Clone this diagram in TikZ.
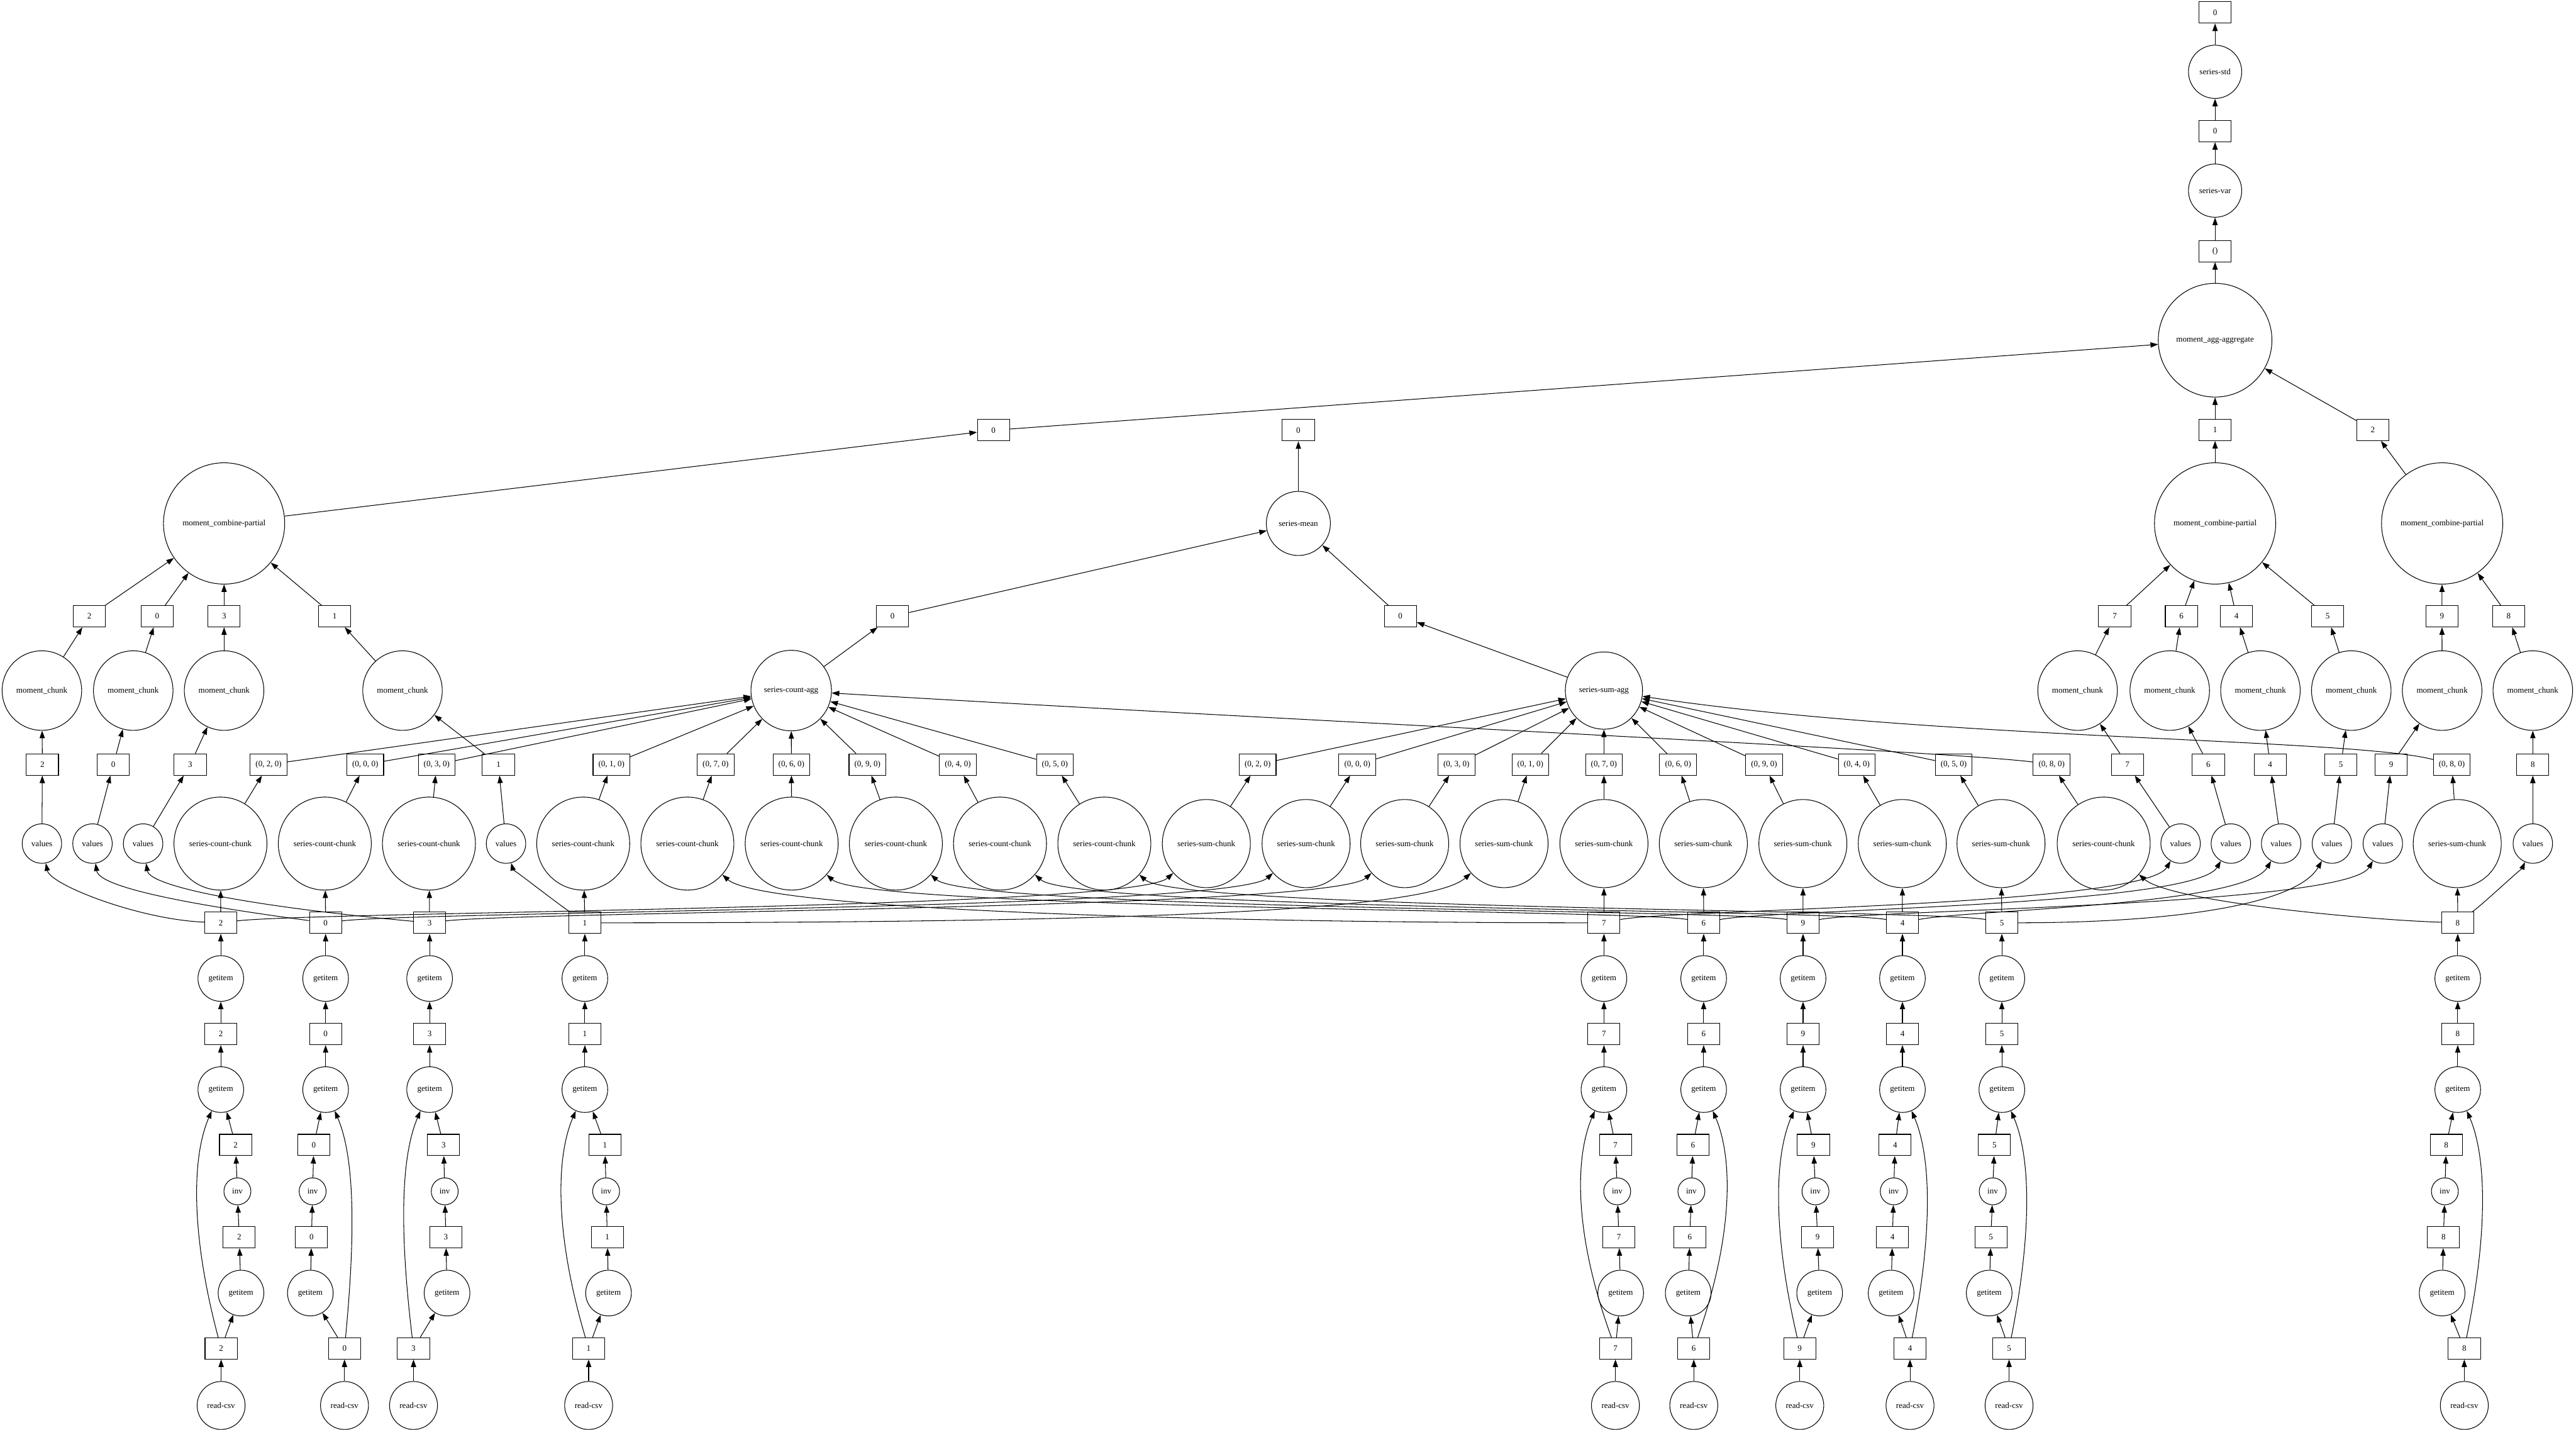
\documentclass[tikz,border=0pt]{standalone}
\usepackage{fontspec}
\setmainfont{Liberation Serif}
\usetikzlibrary{arrows.meta}
\tikzset{
  func/.style={circle,draw,line width=0.4pt,inner sep=0pt,minimum size=#1,font=\fontsize{5}{6}\selectfont},
  keybox/.style={draw,line width=0.4pt,inner xsep=3.3pt,inner ysep=0pt,minimum width=19.6pt,minimum height=13pt,font=\fontsize{5}{6}\selectfont},
  dep/.style={-{Triangle[length=4.6pt,width=3.2pt]},line width=0.4pt},
}
\begin{document}
\begin{tikzpicture}[x=1pt,y=-1pt]
  \useasboundingbox (0,0) rectangle (1568,870);
  % result chain
  \node[keybox] (kstd) at (1348.3,7.6) {0};
  \node[func=32.4pt] (std) at (1348.3,43.7) {series-std};
  \node[keybox] (kvar) at (1348.3,79.8) {0};
  \node[func=32.4pt] (var) at (1348.3,116) {series-var};
  \node[keybox] (kagg) at (1348.3,152.8) {()};
  \node[func=69.2pt] (agg) at (1348.3,207) {moment\_agg-aggregate};
  \node[keybox] (kA) at (604.7,261.8) {0};
  \node[keybox] (kB) at (1348.3,261.6) {1};
  \node[keybox] (kC) at (1444.3,261.6) {2};
  \node[keybox] (kmean) at (790.3,261.8) {0};
  \node[func=73.8pt] (mcpA) at (136.4,318.5) {moment\_combine-partial};
  \node[func=39pt] (mean) at (790.3,318.5) {series-mean};
  \node[func=73.8pt] (mcpB) at (1348.3,318.5) {moment\_combine-partial};
  \node[func=73.8pt] (mcpC) at (1486.5,318.5) {moment\_combine-partial};
  \node[keybox] (kcnt) at (543.3,375) {0};
  \node[keybox] (ksum) at (852.4,375) {0};
  \node[func=49pt] (cntAgg) at (481.6,420.2) {series-count-agg};
  \node[func=47pt] (sumAgg) at (976.3,420.2) {series-sum-agg};

  % one column per partition
  \foreach \p/\xm/\sa/\sb/\xb/\sd in {2/134.4/143.4/146.7/134.6/-1, 0/198.2/191/188.9/209.7/1,
      3/261.5/270/272.1/251.7/-1, 1/356/368.2/370.4/358.3/-1, 7/976.3/983.3/986.5/983.3/-1,
      6/1037/1030.5/1027.6/1031/1, 9/1097.5/1103.8/1107.6/1095.5/-1, 4/1158/1153.5/1151.1/1162.6/1,
      5/1218.5/1214/1210.8/1222.9/1, 8/1496/1489/1486.5/1500/1}{
    \node[keybox] (m\p) at (\xm,561.5) {\p};
    \node[func=27.8pt] (gt\p) at (\xm,595.4) {getitem};
    \node[keybox] (ka\p) at (\xm,629.2) {\p};
    \node[func=27.8pt] (gu\p) at (\xm,663) {getitem};
    \node[keybox] (kb\p) at (\sa,696.7) {\p};
    \node[func=16.4pt] (inv\p) at ({\sa+(\sb-\sa)/3},724.9) {inv};
    \node[keybox] (kc\p) at ({\sa+2*(\sb-\sa)/3},752.8) {\p};
    \node[func=27.8pt] (gl\p) at (\sb,786.8) {getitem};
    \node[keybox] (kd\p) at (\xb,820.5) {\p};
    \node[func=29.2pt] (csv\p) at (\xb,855.2) {read-csv};
    \draw[dep] (csv\p) -- (kd\p);
    \draw[dep] (kd\p) -- (gl\p);
    \draw[dep] (gl\p) -- (kc\p);
    \draw[dep] (kc\p) -- (inv\p);
    \draw[dep] (inv\p) -- (kb\p);
    \draw[dep] (kb\p) -- (gu\p);
    \draw[dep] (kd\p) .. controls ({\xm+18*(\sd)},752) and ({\xm+18*(\sd)},705) .. (gu\p);
    \draw[dep] (gu\p) -- (ka\p);
    \draw[dep] (ka\p) -- (gt\p);
    \draw[dep] (gt\p) -- (m\p);
  }

  % moment branch
  \foreach \p/\xv/\xk/\xc/\xr/\dst in {2/25.5/25.8/25.5/54.4/mcpA, 0/56.3/69/81.1/95.7/mcpA,
      3/87.1/115.8/136.4/136.4/mcpA, 1/308/303.4/245/203.7/mcpA, 7/1327.3/1294.9/1264.6/1287.2/mcpB,
      6/1357.9/1344.2/1320.7/1327.8/mcpB, 4/1388.5/1381.8/1375.9/1361.3/mcpB,
      5/1419.4/1424.9/1431.2/1416.8/mcpB, 9/1450.4/1455.5/1486.5/1486.4/mcpC,
      8/1541.7/1541.7/1541.7/1527/mcpC}{
    \node[func=24pt] (val\p) at (\xv,513.3) {values};
    \node[keybox] (kv\p) at (\xk,465.2) {\p};
    \node[func=48.4pt] (mc\p) at (\xc,420.2) {moment\_chunk};
    \node[keybox] (kr\p) at (\xr,375) {\p};
    \draw[dep] (val\p) -- (kv\p);
    \draw[dep] (kv\p) -- (mc\p);
    \draw[dep] (mc\p) -- (kr\p);
    \draw[dep] (kr\p) -- (\dst);
  }

  % count and sum branches
  \foreach \p/\xc/\xk in {2/134.2/163.5, 0/197.7/222.3, 3/261.1/265.8, 1/355/372.2, 7/418.4/435.6,
      6/481.9/481.7, 9/545.3/528, 4/608.7/583, 5/672.2/642.1, 8/1280.5/1248.8}{
    \node[func=56.6pt] (cc\p) at (\xc,513.3) {series-count-chunk};
    \node[keybox] (kcc\p) at (\xk,465.2) {(0, \p, 0)};
    \draw[dep] (cc\p) -- (kcc\p);
  }
  \foreach \p/\xc/\xk in {2/734.3/765.5, 0/795/826.2, 3/855/886.5, 1/915.5/931.5, 7/976.3/976.3,
      6/1036.8/1021.4, 9/1097.4/1073.8, 4/1157.9/1130.2, 5/1218/1189.2, 8/1495.7/1492.4}{
    \node[func=53.6pt] (sc\p) at (\xc,513.3) {series-sum-chunk};
    \node[keybox] (ksc\p) at (\xk,465.2) {(0, \p, 0)};
    \draw[dep] (sc\p) -- (ksc\p);
  }
  \foreach \p in {2,0,3,1,7,6,9,4,5}{
    \draw[dep] (kcc\p) -- (cntAgg);
    \draw[dep] (ksc\p) -- (sumAgg);
  }
  \draw[dep] (kcc8) .. controls +(-60,-8) and +(300,18) .. (cntAgg);
  \draw[dep] (ksc8) .. controls +(-60,-16) and +(200,30) .. (sumAgg);

  % partitions into the chunk tasks
  \foreach \p in {2,0,3,1} \draw[dep] (m\p) -- (cc\p);
  \foreach \p in {7,6,9,4,5,8} \draw[dep] (m\p) -- (sc\p);
  \draw[dep] (m2) .. controls +(-50,-2) and +(5,25) .. (val2);
  \draw[dep] (m0) .. controls +(-90,-12) and +(4,26) .. (val0);
  \draw[dep] (m3) .. controls +(-110,-10) and +(4,26) .. (val3);
  \draw[dep] (m1) .. controls +(-25,-18) and +(4,15) .. (val1);
  \foreach \p in {2,0,3} \draw[dep] (m\p) .. controls +(60,-7) and +(-45,40) .. (sc\p);
  \draw[dep] (m1) .. controls +(350,0) and +(-45,40) .. (sc1);
  \draw[dep] (m7) .. controls +(-250,0) and +(45,40) .. (cc7);
  \foreach \p in {6,9,4,5} \draw[dep] (m\p) .. controls +(-40,-8) and +(45,40) .. (cc\p);
  \foreach \p in {7,6,9,4} \draw[dep] (m\p) .. controls +(40,-8) and +(-22,38) .. (val\p);
  \draw[dep] (m5) .. controls +(100,0) and +(-22,38) .. (val5);
  \draw[dep] (m8) .. controls +(-60,-2) and +(40,35) .. (cc8);
  \draw[dep] (m8) .. controls +(16,-12) and +(-6,14) .. (val8);

  % aggregation
  \draw[dep] (cntAgg) -- (kcnt);
  \draw[dep] (kcnt) -- (mean);
  \draw[dep] (sumAgg) -- (ksum);
  \draw[dep] (ksum) -- (mean);
  \draw[dep] (mean) -- (kmean);
  \draw[dep] (mcpA) -- (kA);
  \draw[dep] (kA) -- (agg);
  \draw[dep] (mcpB) -- (kB);
  \draw[dep] (kB) -- (agg);
  \draw[dep] (mcpC) -- (kC);
  \draw[dep] (kC) -- (agg);
  \draw[dep] (agg) -- (kagg);
  \draw[dep] (kagg) -- (var);
  \draw[dep] (var) -- (kvar);
  \draw[dep] (kvar) -- (std);
  \draw[dep] (std) -- (kstd);
\end{tikzpicture}
\end{document}
